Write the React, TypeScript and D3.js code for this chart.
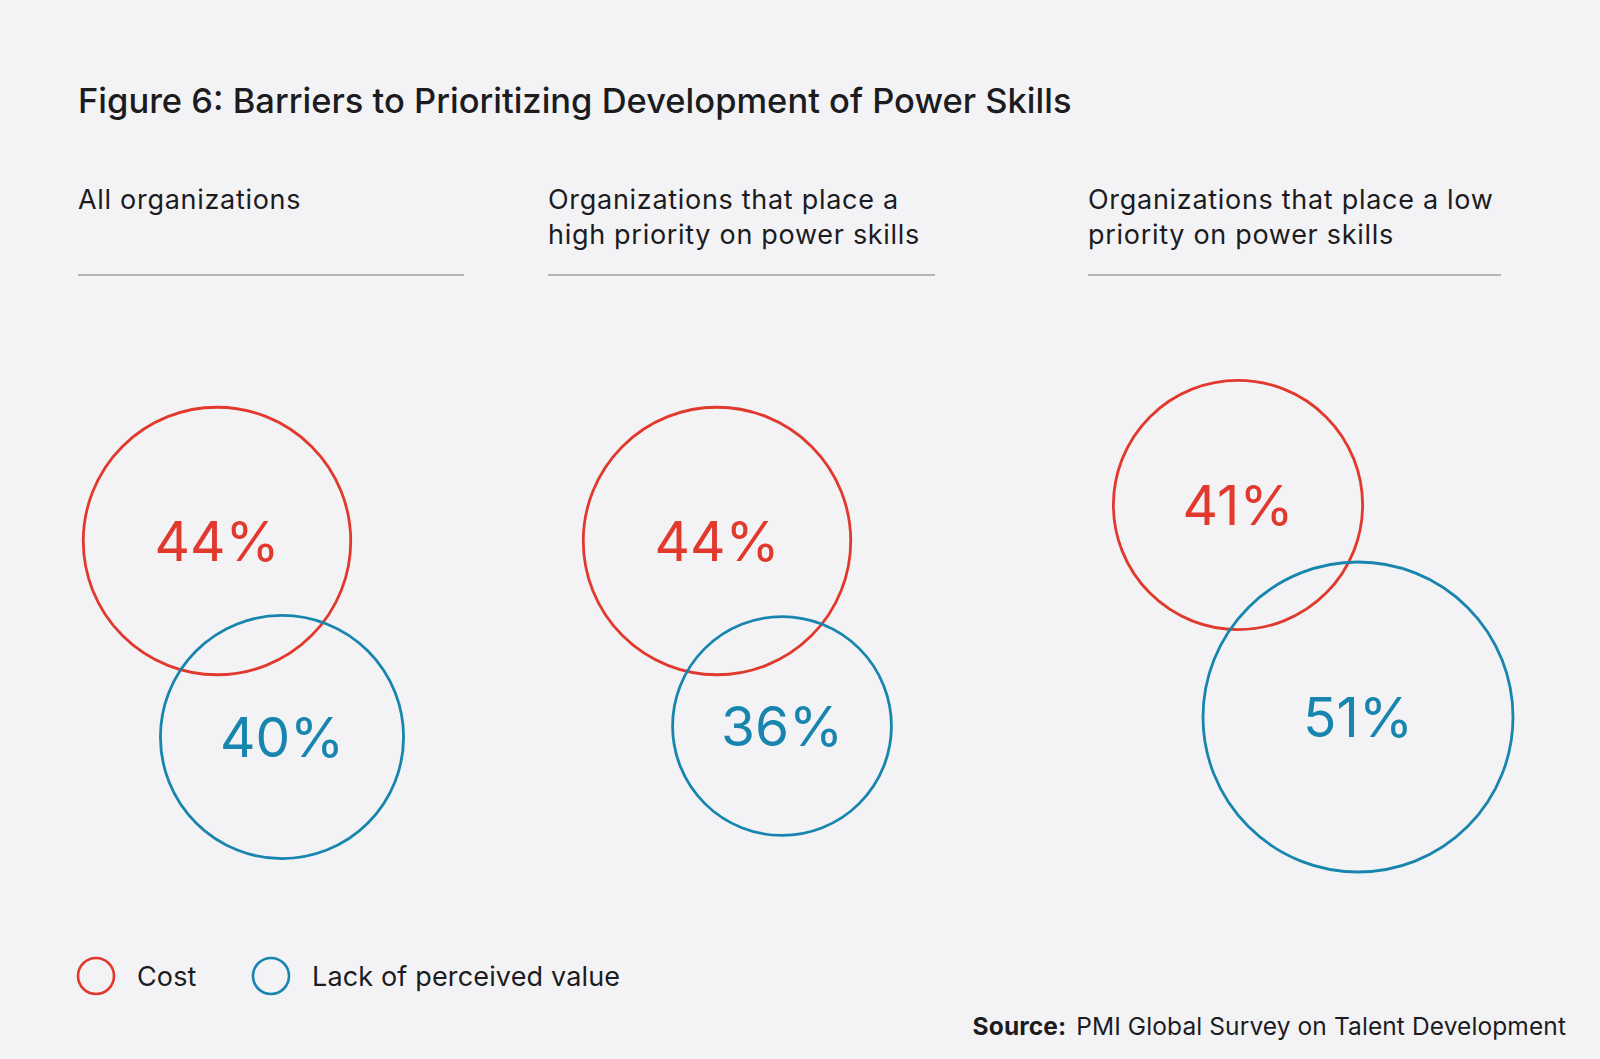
import React, { useEffect } from "react";
import * as d3 from "d3";

// data
const panelTitles = [
  ["All organizations"],
  ["Organizations that place a", "high priority on power skills"],
  ["Organizations that place a low", "priority on power skills"],
];
const seriesNames = ["Cost", "Lack of perceived value"];
const costValues = [44, 44, 41];
const valueValues = [40, 36, 51];

// layout (px, page coords)
const width = 1600;
const height = 1059;
const panelLeft = [78, 548, 1088];
const panelRight = [464, 935, 1501];
const costCenter = [
  [217, 541],
  [717, 541],
  [1238, 505],
];
const valueCenter = [
  [282, 737],
  [782, 726],
  [1358, 717],
];

const red = "#e1392d";
const blue = "#1785ae";
const ink = "#1c1c1f";
const font = "Inter, 'Noto Sans', sans-serif";

const r = d3.scaleLinear().domain([0, 51]).range([0, 155]);

const App: React.FC = () => {
  useEffect(() => {
    document.body.style.margin = "0";
  }, []);

  const circle = (
    key: string,
    cx: number,
    cy: number,
    v: number,
    color: string
  ) => (
    <g key={key}>
      <circle
        cx={cx}
        cy={cy}
        r={r(v)}
        fill="none"
        stroke={color}
        strokeWidth={2.8}
      />
      <text
        x={cx}
        y={cy}
        dy="0.36em"
        textAnchor="middle"
        fill={color}
        fontSize={55}
        fontFamily={font}
        fontWeight={400}
      >
        {v}%
      </text>
    </g>
  );

  return (
    <svg width={width} height={height} style={{ display: "block" }}>
      <rect width={width} height={height} fill="#f3f3f5" />
      <text
        x={78}
        y={113}
        fill={ink}
        fontSize={34.5}
        fontFamily={font}
        fontWeight={500}
      >
        Figure 6: Barriers to Prioritizing Development of Power Skills
      </text>

      {panelTitles.map((lines, i) => (
        <g key={"t" + i}>
          {lines.map((l, j) => (
            <text
              key={j}
              x={panelLeft[i]}
              y={209 + j * 35}
              fill={ink}
              fontSize={27}
              fontFamily={font}
              letterSpacing={0.7}
            >
              {l}
            </text>
          ))}
          <line
            x1={panelLeft[i]}
            x2={panelRight[i]}
            y1={275}
            y2={275}
            stroke="#b4b4b7"
            strokeWidth={2}
          />
        </g>
      ))}

      {/* cost circles first, value circles on top */}
      {costValues.map((v, i) =>
        circle("c" + i, costCenter[i][0], costCenter[i][1], v, red)
      )}
      {valueValues.map((v, i) =>
        circle("v" + i, valueCenter[i][0], valueCenter[i][1], v, blue)
      )}

      {/* legend */}
      {seriesNames.map((name, i) => {
        const lx = [96, 271][i];
        return (
          <g key={"l" + i}>
            <circle
              cx={lx}
              cy={976}
              r={18}
              fill="none"
              stroke={i === 0 ? red : blue}
              strokeWidth={2.6}
            />
            <text
              x={lx + 41}
              y={986}
              fill={ink}
              fontSize={27}
              fontFamily={font}
              letterSpacing={0.15}
            >
              {name}
            </text>
          </g>
        );
      })}

      <text
        x={1566}
        y={1035}
        textAnchor="end"
        fill={ink}
        fontSize={24.5}
        fontFamily={font}
        letterSpacing={0.1}
      >
        <tspan fontWeight={700}>Source:</tspan>
        <tspan dx={10}>PMI Global Survey on Talent Development</tspan>
      </text>
    </svg>
  );
};

export default App;
